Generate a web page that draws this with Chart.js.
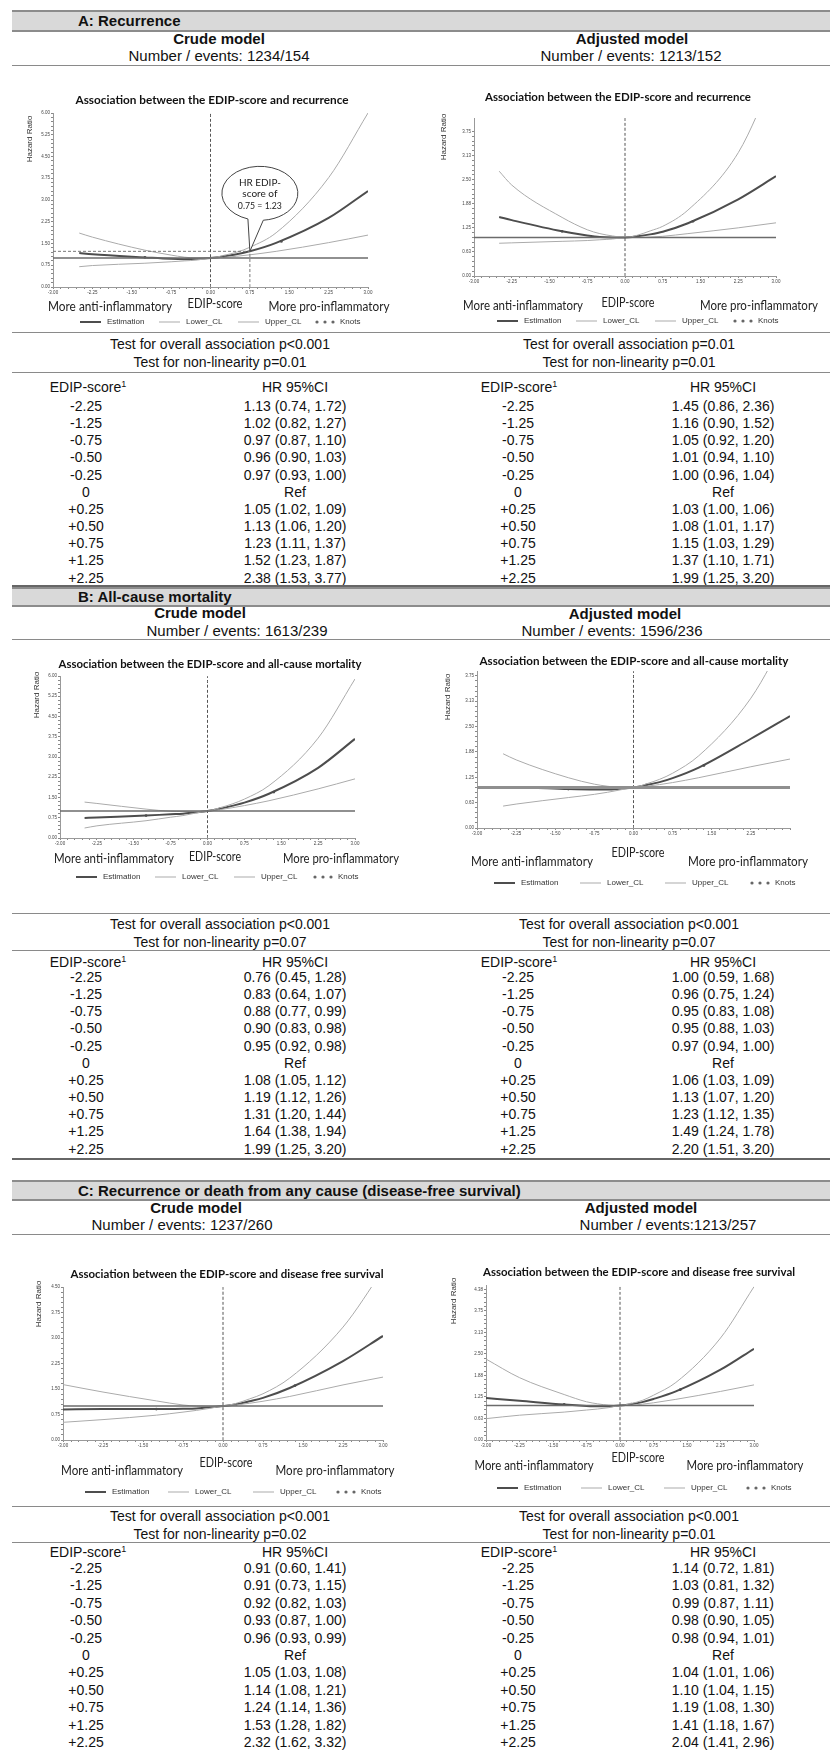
<!DOCTYPE html>
<html>
<head>
<meta charset="utf-8">
<script src="https://cdn.jsdelivr.net/npm/chart.js@4.4.1/dist/chart.umd.min.js"></script>
<style>
  body { margin: 0; background: #fff; }
  #page { position: relative; width: 830px; height: 1750px; overflow: hidden;
          font-family: Arial, "Liberation Sans", sans-serif; color: #111; }
  .t { position: absolute; white-space: nowrap; transform: translate(-50%, -50%);
       font-size: 14px; line-height: 16px; }
  .l { transform: translate(0, -50%); }
  .b { font-weight: bold; font-size: 15px; }
  .m { font-size: 15px; }
  .hl { position: absolute; left: 12px; right: 0; height: 0; }
  .bar { position: absolute; left: 12px; right: 0; background: #d9d9d9;
         border-top: 2px solid #8c8c8c; border-bottom: 2px solid #8c8c8c; }
  canvas { position: absolute; }
  sup { font-size: 9px; vertical-align: 5px; line-height: 0; }
</style>
</head>
<body>
<div id="page"></div>
<script>
// ---- table rows ----
const scoreRows = ['-2.25', '-1.25', '-0.75', '-0.50', '-0.25', '0', '+0.25', '+0.50', '+0.75', '+1.25', '+2.25'];

const hrA_crude = ['1.13 (0.74, 1.72)', '1.02 (0.82, 1.27)', '0.97 (0.87, 1.10)', '0.96 (0.90, 1.03)', '0.97 (0.93, 1.00)', 'Ref',
  '1.05 (1.02, 1.09)', '1.13 (1.06, 1.20)', '1.23 (1.11, 1.37)', '1.52 (1.23, 1.87)', '2.38 (1.53, 3.77)'];
const hrA_adj = ['1.45 (0.86, 2.36)', '1.16 (0.90, 1.52)', '1.05 (0.92, 1.20)', '1.01 (0.94, 1.10)', '1.00 (0.96, 1.04)', 'Ref',
  '1.03 (1.00, 1.06)', '1.08 (1.01, 1.17)', '1.15 (1.03, 1.29)', '1.37 (1.10, 1.71)', '1.99 (1.25, 3.20)'];
const hrB_crude = ['0.76 (0.45, 1.28)', '0.83 (0.64, 1.07)', '0.88 (0.77, 0.99)', '0.90 (0.83, 0.98)', '0.95 (0.92, 0.98)', 'Ref',
  '1.08 (1.05, 1.12)', '1.19 (1.12, 1.26)', '1.31 (1.20, 1.44)', '1.64 (1.38, 1.94)', '1.99 (1.25, 3.20)'];
const hrB_adj = ['1.00 (0.59, 1.68)', '0.96 (0.75, 1.24)', '0.95 (0.83, 1.08)', '0.95 (0.88, 1.03)', '0.97 (0.94, 1.00)', 'Ref',
  '1.06 (1.03, 1.09)', '1.13 (1.07, 1.20)', '1.23 (1.12, 1.35)', '1.49 (1.24, 1.78)', '2.20 (1.51, 3.20)'];
const hrC_crude = ['0.91 (0.60, 1.41)', '0.91 (0.73, 1.15)', '0.92 (0.82, 1.03)', '0.93 (0.87, 1.00)', '0.96 (0.93, 0.99)', 'Ref',
  '1.05 (1.03, 1.08)', '1.14 (1.08, 1.21)', '1.24 (1.14, 1.36)', '1.53 (1.28, 1.82)', '2.32 (1.62, 3.32)'];
const hrC_adj = ['1.14 (0.72, 1.81)', '1.03 (0.81, 1.32)', '0.99 (0.87, 1.11)', '0.98 (0.90, 1.05)', '0.98 (0.94, 1.01)', 'Ref',
  '1.04 (1.01, 1.06)', '1.10 (1.04, 1.15)', '1.19 (1.08, 1.30)', '1.41 (1.18, 1.67)', '2.04 (1.41, 2.96)'];

const testA_crude = ['Test for overall association p<0.001', 'Test for non-linearity p=0.01'];
const testA_adj = ['Test for overall association p=0.01', 'Test for non-linearity p=0.01'];
const testB_crude = ['Test for overall association p<0.001', 'Test for non-linearity p=0.07'];
const testB_adj = ['Test for overall association p<0.001', 'Test for non-linearity p=0.07'];
const testC_crude = ['Test for overall association p<0.001', 'Test for non-linearity p=0.02'];
const testC_adj = ['Test for overall association p<0.001', 'Test for non-linearity p=0.01'];

// ---- spline curves ----
const curveX_AB = [-2.5, -2.25, -1.25, -0.75, -0.5, -0.25, 0, 0.25, 0.5, 0.75, 1.25, 2.25, 3.0];
const curveX_C = [-3.0, -2.25, -1.25, -0.75, -0.5, -0.25, 0, 0.25, 0.5, 0.75, 1.25, 2.25, 3.0];

const estA_crude = [1.17, 1.13, 1.02, 0.97, 0.96, 0.97, 1.00, 1.05, 1.13, 1.23, 1.52, 2.38, 3.31];
const lowA_crude = [0.70, 0.74, 0.82, 0.87, 0.90, 0.93, 1.00, 1.02, 1.06, 1.11, 1.23, 1.53, 1.79];
const upA_crude = [1.86, 1.72, 1.27, 1.10, 1.03, 1.00, 1.00, 1.09, 1.20, 1.37, 1.87, 3.77, 6.00];

const estA_adj = [1.53, 1.45, 1.16, 1.05, 1.01, 1.00, 1.00, 1.03, 1.08, 1.15, 1.37, 1.99, 2.59];
const lowA_adj = [0.85, 0.86, 0.90, 0.92, 0.94, 0.96, 1.00, 1.00, 1.01, 1.03, 1.10, 1.25, 1.38];
const upA_adj = [2.72, 2.36, 1.52, 1.20, 1.10, 1.04, 1.00, 1.06, 1.17, 1.29, 1.71, 3.20, 5.30];

const estB_crude = [0.74, 0.76, 0.83, 0.88, 0.90, 0.95, 1.00, 1.08, 1.19, 1.31, 1.64, 2.60, 3.67];
const lowB_crude = [0.37, 0.45, 0.64, 0.77, 0.83, 0.92, 1.00, 1.05, 1.12, 1.20, 1.38, 1.82, 2.19];
const upB_crude = [1.33, 1.28, 1.07, 0.99, 0.98, 0.98, 1.00, 1.12, 1.26, 1.44, 1.94, 3.70, 5.89];

const estB_adj = [0.99, 1.00, 0.96, 0.95, 0.95, 0.97, 1.00, 1.06, 1.13, 1.23, 1.49, 2.20, 2.76];
const lowB_adj = [0.54, 0.59, 0.75, 0.83, 0.88, 0.94, 1.00, 1.03, 1.07, 1.12, 1.24, 1.51, 1.70];
const upB_adj = [1.83, 1.68, 1.24, 1.08, 1.03, 1.00, 1.00, 1.09, 1.20, 1.35, 1.78, 3.20, 4.90];

const estC_crude = [0.90, 0.91, 0.91, 0.92, 0.93, 0.96, 1.00, 1.05, 1.14, 1.24, 1.53, 2.32, 3.06];
const lowC_crude = [0.52, 0.60, 0.73, 0.82, 0.87, 0.93, 1.00, 1.03, 1.08, 1.14, 1.28, 1.62, 1.85];
const upC_crude = [1.63, 1.41, 1.15, 1.03, 1.00, 0.99, 1.00, 1.08, 1.21, 1.36, 1.82, 3.32, 5.00];

const estC_adj = [1.22, 1.14, 1.03, 0.99, 0.98, 0.98, 1.00, 1.04, 1.10, 1.19, 1.41, 2.04, 2.65];
const lowC_adj = [0.62, 0.72, 0.81, 0.87, 0.90, 0.94, 1.00, 1.01, 1.04, 1.08, 1.18, 1.41, 1.60];
const upC_adj = [2.35, 1.81, 1.32, 1.11, 1.05, 1.01, 1.00, 1.06, 1.15, 1.30, 1.67, 2.96, 4.45];

const knotX = [-1.25, 0.25, 1.35];
const knotsA_crude = [1.02, 1.05, 1.57];
const knotsA_adj = [1.16, 1.03, 1.42];
const knotsB_crude = [0.83, 1.08, 1.70];
const knotsB_adj = [0.96, 1.06, 1.54];
const knotsC_crude = [0.91, 1.05, 1.60];
const knotsC_adj = [1.03, 1.04, 1.46];

// reference line HR = 1 and the dashed line at score 0
const refX = [-3, 3];
const refY = [1, 1];
const zeroX = [0, 0];

// callout in A crude: HR at score 0.75
const calloutX = 0.75;
const calloutHR = 1.23;
const guideHX = [-3, 0.75], guideHY = [1.23, 1.23];
const guideVX = [0.75, 0.75], guideVY = [0, 1.23];

// ---- axis ticks ----
const xTickVals = [-3, -2.25, -1.5, -0.75, 0, 0.75, 1.5, 2.25, 3];
const xTickLabels = ['-3.00', '-2.25', '-1.50', '-0.75', '0.00', '0.75', '1.50', '2.25', '3.00'];
const yTicks075 = [0, 0.75, 1.5, 2.25, 3, 3.75, 4.5, 5.25, 6];
const yLabels075 = ['0.00', '0.75', '1.50', '2.25', '3.00', '3.75', '4.50', '5.25', '6.00'];
const yTicks0625 = [0, 0.625, 1.25, 1.875, 2.5, 3.125, 3.75, 4.375];
const yLabels0625 = ['0.00', '0.63', '1.25', '1.88', '2.50', '3.13', '3.75', '4.38'];

const page = document.getElementById('page');

function text(x, y, s, cls, html) {
  const d = document.createElement('div');
  d.className = 't ' + (cls || '');
  d.style.left = x + 'px';
  d.style.top = y + 'px';
  if (html) d.innerHTML = s; else d.textContent = s;
  page.appendChild(d);
}
function hline(y, w, color) {
  const d = document.createElement('div');
  d.className = 'hl';
  d.style.top = y + 'px';
  d.style.borderTop = (w || 1.5) + 'px solid ' + (color || '#8a8a8a');
  page.appendChild(d);
}
function bar(y0, y1, label) {
  const d = document.createElement('div');
  d.className = 'bar';
  d.style.top = y0 + 'px';
  d.style.height = (y1 - y0 - 2) + 'px';
  page.appendChild(d);
  text(78, (y0 + y1) / 2 + 1, label, 'b l');
}
function table(yTest, yHead, yRow, step, tc, ta, hc, ha) {
  text(220, yTest, tc[0]); text(220, yTest + 18, tc[1]);
  text(629, yTest, ta[0]); text(629, yTest + 18, ta[1]);
  text(88, yHead, 'EDIP-score<sup>1</sup>', '', true);
  text(295, yHead, 'HR 95%CI');
  text(519, yHead, 'EDIP-score<sup>1</sup>', '', true);
  text(723, yHead, 'HR 95%CI');
  scoreRows.forEach((s, i) => {
    const y = yRow + i * step;
    text(86, y, s); text(295, y, hc[i]);
    text(518, y, s); text(723, y, ha[i]);
  });
}

function minorTicks(major, parts) {
  const out = [];
  for (let i = 0; i < major.length; i++) {
    out.push(major[i]);
    if (i < major.length - 1) {
      const d = (major[i + 1] - major[i]) / parts;
      for (let k = 1; k < parts; k++) out.push(major[i] + k * d);
    }
  }
  return out;
}
function labelFor(v, vals, labels) {
  const i = vals.findIndex(m => Math.abs(m - v) < 1e-6);
  return i < 0 ? '' : labels[i];
}

function drawDecor(chart, s) {
  const ctx = chart.ctx, ox = s.x, oy = s.y;
  ctx.save();
  ctx.textAlign = 'center';
  ctx.textBaseline = 'middle';
  ctx.fillStyle = '#111';
  ctx.font = 'bold 12px Lato';
  ctx.fillText(s.title, s.titlePos[0] - ox, s.titlePos[1] - oy, s.titlePos[2]);
  ctx.font = '13.5px Lato';
  ctx.fillStyle = '#222';
  [['More anti-inflammatory', s.anti], ['EDIP-score', s.edip], ['More pro-inflammatory', s.pro]].forEach(p => {
    ctx.fillText(p[0], p[1][0] - ox, p[1][1] - oy, p[1][2]);
  });
  ctx.save();
  ctx.translate(s.hr[0] - ox, s.hr[1] - oy);
  ctx.rotate(-Math.PI / 2);
  ctx.font = '8px Arial';
  ctx.fillStyle = '#333';
  ctx.fillText('Hazard Ratio', 0, 0);
  ctx.restore();

  // legend
  const ly = s.legY - oy;
  ctx.font = '8px Arial';
  ctx.textAlign = 'left';
  [['Estimation', '#4d4d4d', 2], ['Lower_CL', '#ababab', 1], ['Upper_CL', '#ababab', 1]].forEach((it, i) => {
    const x0 = s.leg[i] - ox;
    ctx.strokeStyle = it[1];
    ctx.lineWidth = it[2];
    ctx.beginPath(); ctx.moveTo(x0, ly); ctx.lineTo(x0 + 21, ly); ctx.stroke();
    ctx.fillStyle = '#333';
    ctx.fillText(it[0], x0 + 27, ly);
  });
  const kx = s.leg[3] - ox;
  ctx.fillStyle = '#666';
  for (let k = 0; k < 3; k++) {
    ctx.beginPath(); ctx.arc(kx + 2 + k * 8, ly, 1.6, 0, 2 * Math.PI); ctx.fill();
  }
  ctx.fillStyle = '#333';
  ctx.fillText('Knots', kx + 25, ly);

  if (s.callout) {
    const tx = chart.scales.x.getPixelForValue(calloutX);
    const ty = chart.scales.y.getPixelForValue(calloutHR);
    const cx = tx + 10, cy = ty - 58;
    ctx.beginPath();
    ctx.ellipse(cx, cy, 38, 27, 0, Math.PI / 2 + 0.32, Math.PI * 2.5 - 0.09);
    ctx.lineTo(tx, ty);
    ctx.closePath();
    ctx.fillStyle = '#fff';
    ctx.fill();
    ctx.strokeStyle = '#444';
    ctx.lineWidth = 1;
    ctx.stroke();
    ctx.fillStyle = '#222';
    ctx.textAlign = 'center';
    ctx.font = '10px Lato';
    ctx.fillText('HR EDIP-', cx, cy - 11, 42);
    ctx.fillText('score of', cx, cy, 40);
    ctx.fillText('0.75 = 1.23', cx, cy + 12, 44);
  }
  ctx.restore();
}

function makeChart(s) {
  const cv = document.createElement('canvas');
  cv.width = s.w; cv.height = s.h;
  cv.style.left = s.x + 'px';
  cv.style.top = s.y + 'px';
  page.appendChild(cv);
  const YW = 20, XH = 11;
  const pad = {
    left: s.plot[0] - s.x - YW,
    right: s.x + s.w - s.plot[1],
    top: s.plot[2] - s.y,
    bottom: s.y + s.h - s.plot[3] - XH
  };
  const pts = (xs, ys) => xs.map((x, i) => ({ x: x, y: ys[i] }));
  const line = { showLine: true, pointRadius: 0, fill: false, cubicInterpolationMode: 'monotone' };
  const datasets = [
    { ...line, data: pts(refX, refY), borderColor: s.refColor || '#6b6b6b', borderWidth: s.refW || 1.5 },
    { ...line, data: pts(zeroX, [0, s.yMax]), borderColor: '#555', borderWidth: 1, borderDash: [3, 2] }
  ];
  if (s.callout) {
    datasets.push({ ...line, data: pts(guideHX, guideHY), borderColor: '#777', borderWidth: 1, borderDash: [3, 2] });
    datasets.push({ ...line, data: pts(guideVX, guideVY), borderColor: '#777', borderWidth: 1, borderDash: [3, 2] });
  }
  datasets.push(
    { ...line, data: pts(s.xs, s.low), borderColor: '#ababab', borderWidth: 1 },
    { ...line, data: pts(s.xs, s.up), borderColor: '#ababab', borderWidth: 1 },
    { ...line, data: pts(s.xs, s.est), borderColor: '#4d4d4d', borderWidth: 2 },
    { data: pts(knotX, s.knots), showLine: false, pointRadius: 1.4, pointBackgroundColor: '#555', pointBorderWidth: 0 }
  );
  const xAll = minorTicks(xTickVals, 5);
  const yAll = minorTicks(s.yVals, 5).filter(v => v <= s.yMax + 1e-9);
  const xLabels = s.hideLastX ? xTickLabels.slice(0, -1).concat(['']) : xTickLabels;
  new Chart(cv, {
    type: 'scatter',
    data: { datasets: datasets },
    options: {
      responsive: false,
      animation: false,
      devicePixelRatio: 1,
      layout: { padding: pad },
      plugins: { legend: { display: false }, tooltip: { enabled: false } },
      scales: {
        x: {
          type: 'linear', min: -3, max: 3,
          afterBuildTicks: sc => { sc.ticks = xAll.map(v => ({ value: v })); },
          afterFit: sc => { sc.height = XH; },
          ticks: { autoSkip: false, maxRotation: 0, padding: 1, color: '#444',
                   font: { size: 4.5, family: 'Arial' },
                   callback: v => labelFor(v, xTickVals, xLabels) },
          grid: { drawOnChartArea: false, drawTicks: true, tickLength: 2, color: '#888' },
          border: { color: '#999' }
        },
        y: {
          type: 'linear', min: 0, max: s.yMax,
          afterBuildTicks: sc => { sc.ticks = yAll.map(v => ({ value: v })); },
          afterFit: sc => { sc.width = YW; },
          ticks: { autoSkip: false, padding: 1, color: '#444',
                   font: { size: 4.5, family: 'Arial' },
                   callback: v => labelFor(v, s.yVals, s.yLabels) },
          grid: { drawOnChartArea: false, drawTicks: true, tickLength: 2, color: '#888' },
          border: { color: '#999' }
        }
      }
    },
    plugins: [{ id: 'decor', afterDraw: ch => drawDecor(ch, s) }]
  });
}

// ================= A =================
bar(10, 30, 'A: Recurrence');
text(219, 39, 'Crude model', 'b');
text(219, 56, 'Number / events: 1234/154', 'm');
text(632, 39, 'Adjusted model', 'b');
text(631, 56, 'Number / events: 1213/152', 'm');
hline(65);
makeChart({ x: 0, y: 66, w: 415, h: 265, plot: [53, 368, 113, 287], yMax: 6,
  yVals: yTicks075, yLabels: yLabels075,
  title: 'Association between the EDIP-score and recurrence', titlePos: [212, 100, 273],
  hr: [30, 139], anti: [110, 307, 124], edip: [215, 304, 55], pro: [329, 307, 121],
  legY: 322, leg: [80, 159, 238, 315],
  xs: curveX_AB, est: estA_crude, low: lowA_crude, up: upA_crude, knots: knotsA_crude, callout: true });
makeChart({ x: 415, y: 66, w: 415, h: 265, plot: [474, 776, 118, 276], yMax: 4.1,
  yVals: yTicks0625.slice(0, 7), yLabels: yLabels0625.slice(0, 7),
  title: 'Association between the EDIP-score and recurrence', titlePos: [618, 97, 266],
  hr: [444, 137], anti: [523, 306, 120], edip: [628, 303, 53], pro: [759, 306, 118],
  legY: 321, leg: [497, 576, 655, 733],
  xs: curveX_AB, est: estA_adj, low: lowA_adj, up: upA_adj, knots: knotsA_adj });
hline(332);
hline(372);
table(344, 387, 406, 17.15, testA_crude, testA_adj, hrA_crude, hrA_adj);
hline(585, 2, '#666');

// ================= B =================
bar(587, 605, 'B: All-cause mortality');
text(200, 613, 'Crude model', 'b');
text(237, 631, 'Number / events: 1613/239', 'm');
text(625, 614, 'Adjusted model', 'b');
text(612, 631, 'Number / events: 1596/236', 'm');
hline(639);
makeChart({ x: 0, y: 640, w: 415, h: 272, plot: [60, 355, 676, 838], yMax: 6,
  yVals: yTicks075, yLabels: yLabels075,
  title: 'Association between the EDIP-score and all-cause mortality', titlePos: [210, 664, 303],
  hr: [37, 695], anti: [114, 859, 120], edip: [215, 857, 52], pro: [341, 859, 116],
  legY: 877, leg: [76, 155, 234, 313],
  xs: curveX_AB, est: estB_crude, low: lowB_crude, up: upB_crude, knots: knotsB_crude });
makeChart({ x: 415, y: 640, w: 415, h: 272, plot: [477, 790, 671, 828], yMax: 3.87,
  yVals: yTicks0625.slice(0, 7), yLabels: yLabels0625.slice(0, 7), hideLastX: true,
  title: 'Association between the EDIP-score and all-cause mortality', titlePos: [634, 661, 309],
  hr: [448, 697], anti: [532, 862, 122], edip: [638, 853, 53], pro: [748, 862, 120],
  legY: 883, leg: [494, 580, 665, 750], refW: 3, refColor: '#8f8f8f',
  xs: curveX_AB, est: estB_adj, low: lowB_adj, up: upB_adj, knots: knotsB_adj });
hline(913);
hline(950);
table(924, 962, 977, 17.15, testB_crude, testB_adj, hrB_crude, hrB_adj);
hline(1158, 2, '#666');

// ================= C =================
bar(1180, 1199, 'C: Recurrence or death from any cause (disease-free survival)');
text(196, 1208, 'Crude model', 'b');
text(182, 1225, 'Number / events: 1237/260', 'm');
text(641, 1208, 'Adjusted model', 'b');
text(668, 1225, 'Number / events:1213/257', 'm');
hline(1234);
makeChart({ x: 0, y: 1235, w: 415, h: 270, plot: [63, 383, 1287, 1440], yMax: 4.5,
  yVals: yTicks075.slice(0, 7), yLabels: yLabels075.slice(0, 7),
  title: 'Association between the EDIP-score and disease free survival', titlePos: [227, 1274, 313],
  hr: [39, 1304], anti: [122, 1471, 122], edip: [226, 1463, 53], pro: [335, 1471, 119],
  legY: 1492, leg: [85, 168, 253, 336],
  xs: curveX_C, est: estC_crude, low: lowC_crude, up: upC_crude, knots: knotsC_crude });
makeChart({ x: 415, y: 1235, w: 415, h: 270, plot: [486, 754, 1285, 1440], yMax: 4.5,
  yVals: yTicks0625, yLabels: yLabels0625,
  title: 'Association between the EDIP-score and disease free survival', titlePos: [639, 1272, 312],
  hr: [454, 1301], anti: [534, 1466, 119], edip: [638, 1458, 53], pro: [745, 1466, 117],
  legY: 1488, leg: [497, 581, 664, 746],
  xs: curveX_C, est: estC_adj, low: lowC_adj, up: upC_adj, knots: knotsC_adj });
hline(1506);
hline(1542);
table(1516, 1552, 1568, 17.4, testC_crude, testC_adj, hrC_crude, hrC_adj);
</script>
</body>
</html>
